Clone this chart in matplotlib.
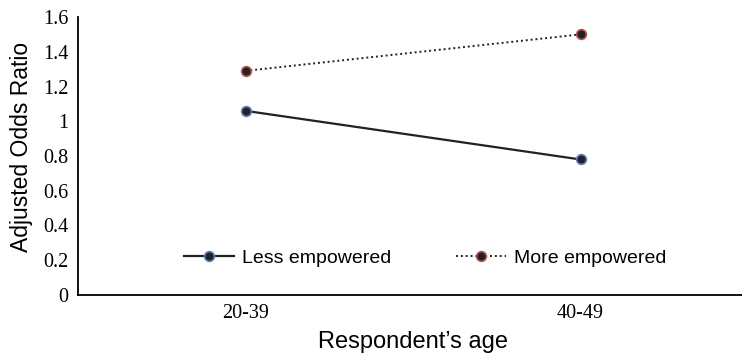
import matplotlib
matplotlib.use("Agg")
import matplotlib.pyplot as plt

categories = ["20-39", "40-49"]
less_empowered = [1.06, 0.78]
more_empowered = [1.29, 1.50]
yticks = [0, 0.2, 0.4, 0.6, 0.8, 1, 1.2, 1.4, 1.6]
ytick_labels = ["0", "0.2", "0.4", "0.6", "0.8", "1", "1.2", "1.4", "1.6"]

fig = plt.figure(figsize=(7.42, 3.55), dpi=100)
ax = fig.add_axes([78/742, 1 - 295/355, (748-78)/742, (295-17)/355])

x = [0.5, 1.5]
ax.plot(x, less_empowered, color="#222222", lw=1.6, ls="-", marker="o", ms=7,
        mfc="#222222", mec="#5b7fc0", mew=1.2, label="Less empowered")
ax.plot(x, more_empowered, color="#222222", lw=1.4, ls=(0, (1, 1.5)), marker="o", ms=7,
        mfc="#222222", mec="#b85450", mew=1.2, label="More empowered")

ax.set_xlim(0, 2)
ax.set_ylim(0, 1.6)
ax.set_xticks(x)
ax.set_xticklabels(categories, fontfamily="Liberation Serif", fontsize=14.5)
ax.set_yticks(yticks)
ax.set_yticklabels(ytick_labels, fontfamily="Liberation Serif", fontsize=14.5)
ax.tick_params(axis="x", length=0, pad=6.5)
ax.tick_params(axis="y", length=0, pad=7)
for s in ["top", "right"]:
    ax.spines[s].set_visible(False)
ax.spines["left"].set_linewidth(1.3)
ax.spines["bottom"].set_linewidth(1.3)

ax.set_xlabel("Respondent\u2019s age", fontfamily="Liberation Sans", fontsize=17)
ax.set_ylabel("Adjusted Odds Ratio", fontfamily="Liberation Sans", fontsize=16.5)
ax.xaxis.set_label_coords(0.5, -0.128)
ax.yaxis.set_label_coords(-0.067, 0.532)

ax.legend(loc="center left", bbox_to_anchor=(180/742, 1 - 258/355),
          bbox_transform=fig.transFigure, ncol=2, frameon=False,
          prop={"family": "Liberation Sans", "size": 14}, columnspacing=3.3,
          handlelength=2.6, handletextpad=0.4, borderpad=0.2, borderaxespad=0)

fig.savefig("out.png", dpi=100)
